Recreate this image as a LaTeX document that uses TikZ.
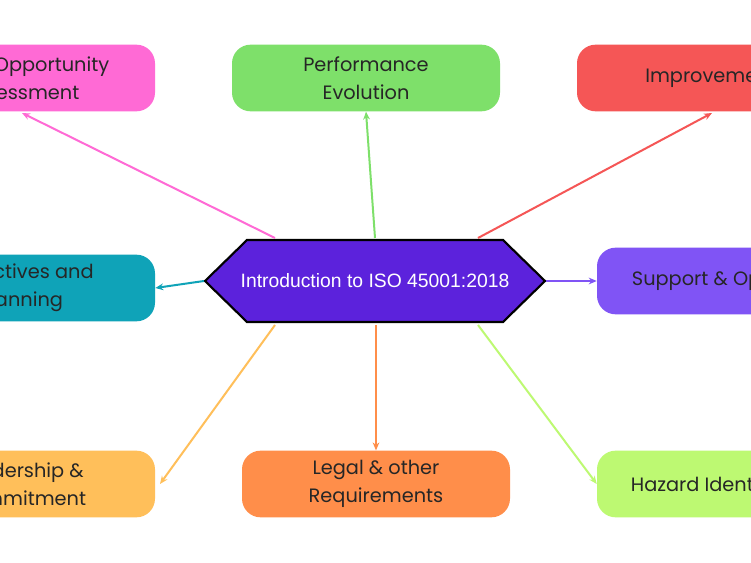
\documentclass[tikz,border=0pt]{standalone}
\usepackage{fontspec}
\setmainfont{Poppins}
\newfontfamily\arialf{Liberation Sans}
\usetikzlibrary{arrows.meta}
\definecolor{cpink}{HTML}{FF6AD5}
\definecolor{cgreen}{HTML}{7EE06A}
\definecolor{cred}{HTML}{F55656}
\definecolor{cteal}{HTML}{0FA3B8}
\definecolor{cpurp}{HTML}{8054F5}
\definecolor{cyel}{HTML}{FFBF5A}
\definecolor{corange}{HTML}{FF8E4A}
\definecolor{clime}{HTML}{BDF972}
\definecolor{chex}{HTML}{5C22DC}
\begin{document}
\begin{tikzpicture}[x=0.75pt,y=-0.75pt,
 box/.style={draw=none,rounded corners=14pt,minimum width=201pt,minimum height=50pt,align=center,font=\fontsize{14.5}{21}\selectfont,text=black!85},
 arr/.style={-{Stealth[length=6pt,width=5pt]},line width=1.5pt}]
\useasboundingbox (0,0) rectangle (751,563);
\clip (0,0) rectangle (751,563);
\fill[white] (0,0) rectangle (751,563);
\node[box,fill=cpink] (pink) at (21,78) {Risk \& Opportunity\\Assessment};
\node[box,fill=cgreen] (green) at (366,78) {Performance\\Evolution};
\node[box,fill=cred] (red) at (711,78) {Improvement};
\node[box,fill=cteal] (teal) at (21,288) {Objectives and\\Planning};
\node[box,fill=cpurp] (purp) at (731,281) {Support \& Operation};
\node[box,fill=cyel] (yel) at (21,484) {Leadership \&\\Commitment};
\node[box,fill=corange] (orange) at (376,484) {Legal \& other\\Requirements};
\node[box,fill=clime] (lime) at (731,484) {Hazard Identification};
\draw[fill=chex,line width=1.6pt] (205,281) -- (247,240) -- (503,240) -- (545,281) -- (503,322) -- (247,322) -- cycle;
\node[text=white,font=\arialf\fontsize{14.5}{17}\selectfont] (hex) at (375,281) {Introduction to ISO 45001:2018};
\coordinate (h1) at (275,238); \coordinate (h2) at (375,238); \coordinate (h3) at (478,238);
\coordinate (h4) at (204,281); \coordinate (h5) at (546,281);
\coordinate (h6) at (275,325); \coordinate (h7) at (376,325); \coordinate (h8) at (478,325);
\coordinate (t1) at (22,113); \coordinate (t6) at (160,484);
\draw[arr,cpink] (h1) -- (t1);
\draw[arr,cgreen] (h2) -- (green.south);
\draw[arr,cred] (h3) -- (712,113);
\draw[arr,cteal] (h4) -- (teal.east);
\draw[arr,cpurp] (h5) -- (purp.west);
\draw[arr,cyel] (h6) -- (t6);
\draw[arr,corange] (h7) -- (orange.north);
\draw[arr,clime] (h8) -- (lime.west);
\end{tikzpicture}
\end{document}
